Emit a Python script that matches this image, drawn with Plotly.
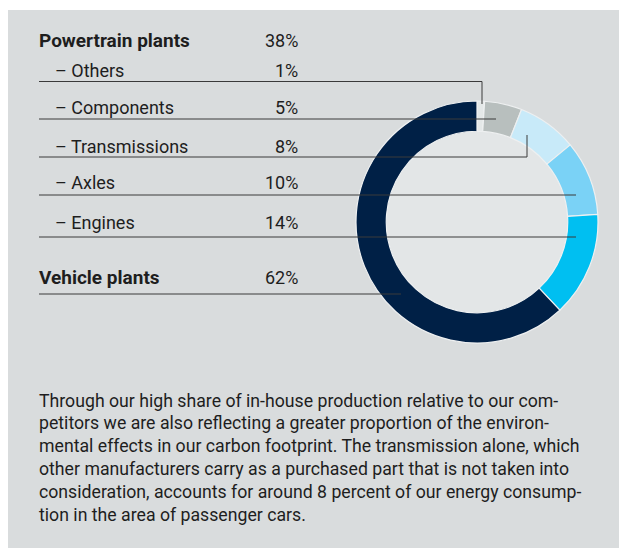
import plotly.graph_objects as go

# Share of energy consumption by plant type
categories = ["Others", "Components", "Transmissions", "Axles", "Engines", "Vehicle plants"]
shares = [1, 5, 8, 10, 14, 62]
slice_colors = ["#e4e8e8", "#b8bfbe", "#c8eaf9", "#7ad2f6", "#00bff1", "#002046"]

row_labels = ["Powertrain plants", "– Others", "– Components", "– Transmissions",
              "– Axles", "– Engines", "Vehicle plants"]
row_values = ["38%", "1%", "5%", "8%", "10%", "14%", "62%"]
row_bold = [True, False, False, False, False, False, True]

paragraph = [
    "Through our high share of in-house production relative to our com-",
    "petitors we are also reflecting a greater proportion of the environ-",
    "mental effects in our carbon footprint. The transmission alone, which",
    "other manufacturers carry as a purchased part that is not taken into",
    "consideration, accounts for around 8 percent of our energy consump-",
    "tion in the area of passenger cars.",
]

W, H = 619, 548
PANEL = "#d9dcdd"
HOLE = "#e3e6e7"
LINE = "#3a3a3a"
TEXT = "#1e1e1e"
FONT = "Roboto"


def px(x):
    return x / W


def py(y):
    return 1 - y / H


# donut placement (pixels)
cx, cy, r_out = 477, 222, 121

fig = go.Figure()

fig.add_trace(go.Pie(
    labels=categories,
    values=shares,
    sort=False,
    direction="clockwise",
    rotation=0,
    hole=0.75,
    marker=dict(colors=slice_colors, line=dict(color="#eef0f1", width=1.2)),
    textinfo="none",
    hoverinfo="label+percent",
    showlegend=False,
    domain=dict(x=[px(cx - r_out), px(cx + r_out)], y=[py(cy + r_out), py(cy - r_out)]),
))

shapes = [
    # grey panel
    dict(type="rect", xref="paper", yref="paper", layer="below",
         x0=px(8), x1=1, y0=0, y1=py(10),
         fillcolor=PANEL, line=dict(width=0)),
    # lighter donut hole
    dict(type="circle", xref="paper", yref="paper", layer="below",
         x0=px(cx - 91), x1=px(cx + 91), y0=py(cy + 91), y1=py(cy - 91),
         fillcolor=HOLE, line=dict(width=0)),
]


def seg(x0, y0, x1, y1):
    shapes.append(dict(type="line", xref="paper", yref="paper", layer="above",
                       x0=px(x0), y0=py(y0), x1=px(x1), y1=py(y1),
                       line=dict(color=LINE, width=1)))


# leader lines (label underline -> slice)
seg(39, 81.5, 482, 81.5)
seg(482, 81.5, 482, 104)
seg(39, 119, 496, 119)
seg(39, 157, 527, 157)
seg(527, 157, 527, 135)
seg(39, 195, 576, 195)
seg(39, 237, 576, 237)
seg(39, 294, 401, 294)

annotations = []
row_y = [40, 71, 108, 146, 183, 222, 277]
for lab, val, bold, y in zip(row_labels, row_values, row_bold, row_y):
    indent = 53 if lab.startswith("–") else 37
    if bold:
        text, size = f"<b>{lab}</b>", 19
    else:
        text, size = lab, 18
    annotations.append(dict(text=text, x=px(indent), y=py(y), xref="paper", yref="paper",
                            xanchor="left", yanchor="middle", showarrow=False,
                            font=dict(family=FONT, size=size, color=TEXT)))
    annotations.append(dict(text=val, x=px(300), y=py(y), xref="paper", yref="paper",
                            xanchor="right", yanchor="middle", showarrow=False,
                            font=dict(family=FONT, size=18, color=TEXT)))

para_y = [401, 423, 446, 469, 492, 515]
for line_text, y in zip(paragraph, para_y):
    annotations.append(dict(text=line_text, x=px(37), y=py(y), xref="paper", yref="paper",
                            xanchor="left", yanchor="middle", showarrow=False,
                            font=dict(family=FONT, size=17.7, color=TEXT)))

fig.update_layout(
    width=W,
    height=H,
    margin=dict(l=0, r=0, t=0, b=0),
    paper_bgcolor="white",
    plot_bgcolor="white",
    shapes=shapes,
    annotations=annotations,
)

# drop the default body margin so the figure fills the window exactly
fig.write_html("out.html", config={"displayModeBar": False},
               post_script="document.body.style.margin = '0';")
